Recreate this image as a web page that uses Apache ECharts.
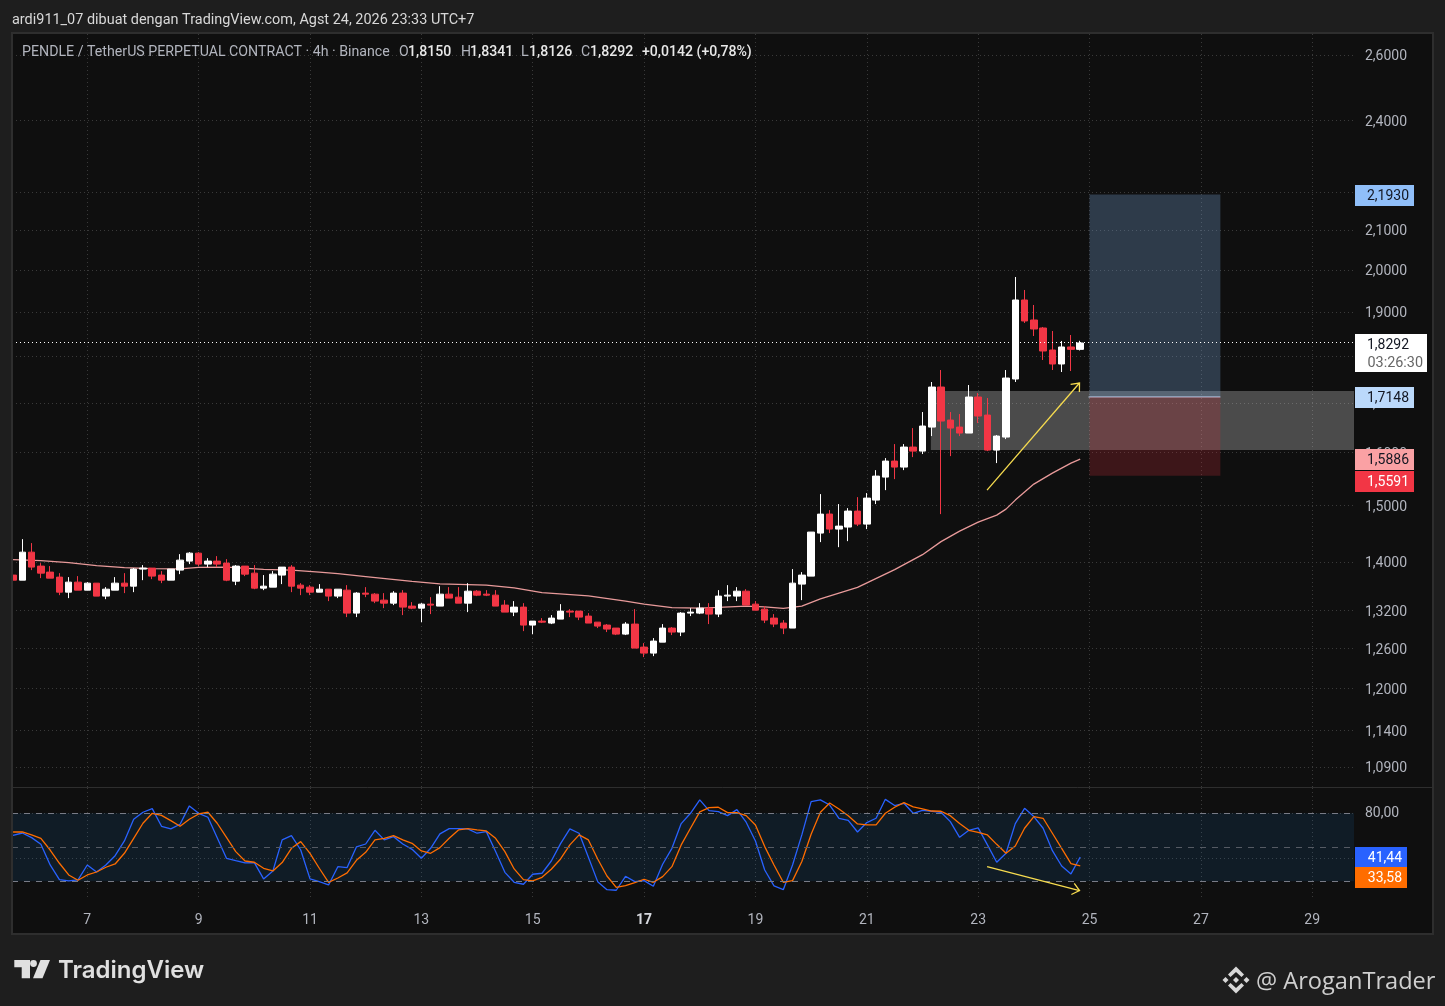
<!DOCTYPE html>
<html><head><meta charset="utf-8">
<style>html,body{margin:0;padding:0;background:#1e1e1e}#c{width:1445px;height:1006px}</style>
<script src="https://cdn.jsdelivr.net/npm/echarts@6/dist/echarts.min.js"></script>
</head><body><div id="c"></div>
<script>
// Aug 5 16:00, then one candle every 4 hours
const firstCandleDay = 5 + 2/3;
const candleStepDays = 1/6;
const opens = [1.3778,1.3693,1.4169,1.3930,1.3828,1.3744,1.3494,1.3660,1.3527,1.3643,1.3429,1.3527,1.3643,1.3593,1.3879,1.3896,1.3778,1.3693,1.3862,1.4015,1.4152,1.3964,1.4015,1.3981,1.3676,1.3930,1.3811,1.3560,1.3577,1.3778,1.3913,1.3610,1.3577,1.3494,1.3543,1.3429,1.3527,1.3153,1.3478,1.3461,1.3363,1.3314,1.3478,1.3266,1.3233,1.3298,1.3266,1.3461,1.3412,1.3314,1.3510,1.3461,1.3445,1.3282,1.3169,1.3250,1.2962,1.3025,1.2994,1.3057,1.3185,1.3185,1.3105,1.3009,1.2962,1.2915,1.2820,1.2978,1.2618,1.2526,1.2695,1.2915,1.2852,1.3153,1.3153,1.3233,1.3137,1.3429,1.3429,1.3510,1.3298,1.3217,1.3073,1.2994,1.2915,1.3627,1.3761,1.4503,1.4844,1.4574,1.4610,1.4898,1.4663,1.5099,1.5529,1.5836,1.5720,1.6109,1.6030,1.6507,1.7334,1.6649,1.6507,1.6387,1.7124,1.6751,1.6050,1.6307,1.7505,1.9278,1.8813,1.8630,1.8136,1.7829,1.8203,1.8150];
const closes = [1.3693,1.4169,1.3913,1.3811,1.3727,1.3494,1.3660,1.3527,1.3643,1.3429,1.3543,1.3643,1.3593,1.3879,1.3896,1.3761,1.3693,1.3879,1.4032,1.4152,1.3964,1.4015,1.3964,1.3693,1.3930,1.3794,1.3560,1.3593,1.3794,1.3913,1.3593,1.3560,1.3494,1.3543,1.3429,1.3543,1.3153,1.3478,1.3461,1.3347,1.3314,1.3478,1.3250,1.3233,1.3298,1.3282,1.3461,1.3396,1.3314,1.3510,1.3445,1.3445,1.3266,1.3169,1.3250,1.2962,1.3025,1.3009,1.3073,1.3185,1.3169,1.3089,1.2994,1.2946,1.2899,1.2820,1.2978,1.2603,1.2526,1.2711,1.2915,1.2852,1.3153,1.3169,1.3233,1.3137,1.3429,1.3445,1.3510,1.3282,1.3201,1.3041,1.2978,1.2915,1.3643,1.3778,1.4521,1.4843,1.4574,1.4627,1.4898,1.4663,1.5136,1.5548,1.5836,1.5720,1.6109,1.6030,1.6528,1.7334,1.6629,1.6487,1.6387,1.7124,1.6731,1.6050,1.6327,1.7526,1.9278,1.8790,1.8607,1.8114,1.7829,1.8203,1.8150,1.8292];
const highs = [1.3930,1.4396,1.4327,1.3981,1.3930,1.3811,1.3744,1.3761,1.3660,1.3643,1.3577,1.3744,1.3811,1.3896,1.3947,1.3896,1.3845,1.3879,1.4135,1.4169,1.4169,1.4066,1.4101,1.4049,1.3947,1.3930,1.3947,1.3778,1.3845,1.3913,1.3947,1.3643,1.3610,1.3627,1.3543,1.3543,1.3610,1.3494,1.3577,1.3478,1.3478,1.3510,1.3527,1.3331,1.3314,1.3412,1.3593,1.3577,1.3577,1.3643,1.3527,1.3527,1.3527,1.3363,1.3347,1.3314,1.3025,1.3073,1.3121,1.3298,1.3217,1.3185,1.3153,1.3009,1.2978,1.2915,1.3009,1.3217,1.2680,1.2758,1.2978,1.2930,1.3169,1.3233,1.3314,1.3314,1.3527,1.3610,1.3577,1.3543,1.3347,1.3266,1.3137,1.3041,1.3879,1.3828,1.4521,1.5210,1.4916,1.5026,1.4952,1.5154,1.5229,1.5662,1.5894,1.6168,1.6168,1.6487,1.6813,1.7441,1.7698,1.6813,1.6772,1.7377,1.7208,1.7103,1.6347,1.7698,1.9827,1.9515,1.9161,1.8653,1.8561,1.8337,1.8471,1.8341];
const lows = [1.3543,1.3693,1.3862,1.3727,1.3727,1.3445,1.3396,1.3527,1.3527,1.3429,1.3379,1.3527,1.3478,1.3494,1.3693,1.3710,1.3643,1.3693,1.3794,1.3964,1.3930,1.3913,1.3913,1.3676,1.3610,1.3761,1.3543,1.3527,1.3577,1.3627,1.3494,1.3445,1.3445,1.3494,1.3347,1.3396,1.3089,1.3089,1.3412,1.3314,1.3233,1.3282,1.3121,1.3217,1.3009,1.3137,1.3266,1.3396,1.3314,1.3169,1.3429,1.3429,1.3266,1.3169,1.3105,1.2867,1.2820,1.2994,1.2978,1.3057,1.3089,1.3041,1.2994,1.2915,1.2852,1.2805,1.2805,1.2603,1.2465,1.2480,1.2695,1.2805,1.2789,1.3105,1.3137,1.2978,1.3089,1.3347,1.3347,1.3282,1.3201,1.2994,1.2930,1.2820,1.2915,1.3363,1.3761,1.4344,1.4503,1.4256,1.4361,1.4628,1.4574,1.5026,1.5284,1.5491,1.5662,1.5913,1.5972,1.6327,1.4843,1.5932,1.6327,1.6387,1.6589,1.6030,1.5797,1.6267,1.7441,1.8744,1.8449,1.7916,1.7698,1.7655,1.7676,1.8126];
const emaDays = [5.667,6.167,6.667,7.167,7.667,8.167,8.667,9,9.5,10.167,10.667,11.167,11.5,12,12.833,13.333,14.167,14.667,15.167,16,16.667,17,17.5,18,18.333,18.833,19.167,19.5,19.833,20.167,20.833,21.5,22,22.333,22.667,23,23.333,23.5,23.667,24,24.333,24.667,24.833];
const emaValues = [1.4041,1.4023,1.3990,1.3938,1.3904,1.3887,1.3884,1.3908,1.3913,1.3875,1.3862,1.3828,1.3803,1.3752,1.3671,1.3632,1.3610,1.3565,1.3486,1.3434,1.3347,1.3298,1.3242,1.3233,1.3245,1.3266,1.3255,1.3228,1.3266,1.3384,1.3572,1.3870,1.4126,1.4353,1.4538,1.4699,1.4825,1.4934,1.5099,1.5397,1.5604,1.5797,1.5874];
const stochK = [60.6,62.6,58.5,52.6,34.4,21.5,20.3,21.2,34.4,28.2,34.4,42.6,55.6,74.7,80.9,84.1,68.5,66.2,70.3,86.5,80,76.5,58.5,40.3,38.2,36.2,36.5,22.1,29.1,56.5,60.3,47.6,22.1,19.7,16.8,32.9,32.1,50.3,52.9,65,56.5,59.4,52.9,48.2,40.3,49.1,61.8,66.5,66.5,66.2,62.4,63.8,46.2,27.9,19.1,17.4,26.2,27.1,37.9,53.2,66.2,62.4,41.2,19.7,12.6,12.1,24.4,19.7,20.6,15.6,35,49.1,70.9,80,91.8,82.3,81.5,77.9,83.2,72.1,55.6,30,15.9,12.6,34.4,60.9,90.3,91.8,87.3,75.6,73.8,63.5,71.8,75.6,92.3,86.8,88.8,80,82.6,81.8,80.9,72.6,58.8,65,67.1,52.1,36.8,44.7,70.9,84.4,77.1,66.8,47,33.5,26.5,41.44];
const stochD = [63.5,63.5,60.9,57.9,47.6,35.9,25.6,20.9,25.6,28.2,32.4,35.3,44.7,57.9,71.2,80,78.2,73.5,68.5,74.7,79.4,80.9,71.2,58.8,46.2,37.9,36.8,31.5,29.1,36.5,49.1,55,44.7,31.5,19.1,22.9,27.4,38.5,45.6,56.5,57.9,60.3,56.5,53.5,46.8,44.7,49.7,57.9,65.3,66.5,65.3,64.4,57.9,46.2,30.9,21.5,20.3,23.5,30.6,39.7,52.1,60.9,56.5,39.7,24.7,14.7,16.2,18.8,21.8,19.1,24.1,32.9,52.1,66.8,81.2,85,85.3,80.6,80.6,77.9,69.7,50.6,34.4,19.1,20.6,37.4,61.5,80.9,89.1,83.8,77.9,70.6,69.7,69.7,80,85.3,89.4,85.6,83.8,82,81.8,77.9,70.9,65,63.2,60.9,52.6,44.7,51.2,66.8,77.1,75.6,62.4,49.1,35.6,33.58];
const priceTicks = [2.6,2.4,2.2,2.1,2.0,1.9,1.8,1.7,1.6,1.5,1.4,1.32,1.26,1.2,1.14,1.09];
const stochTicks = [40,80];
const stochLabels = [40,80];
const stochLevels = [20,50,80];
const dayTicks = [7,9,11,13,15,17,19,21,23,25,27,29];
const lastPrice = 1.8292;
const countdown = '03:26:30';
const priceTagValues = [2.1930,1.7148,1.5886,1.5591];
const stochTagValues = [41.44,33.58];
const longBox = [25, 27.35, 1.7125, 2.193];
const shortBox = [25, 27.35, 1.5555, 1.7125];
const greyZone = [22.15, 29.75, 1.6052, 1.7252];
const priceArrow = [23.16, 1.5284, 24.82, 1.7420];
const stochArrow = [23.16, 32.9, 24.82, 11.8];

const fmt = (v,d) => Number(v).toFixed(d).replace('.',',');
const X_MIN = 5.648, X_MAX = 29.75;
const FONT = 'Roboto, sans-serif';
const candles = opens.map((o,i)=>[firstCandleDay + i*candleStepDays, o, closes[i], lows[i], highs[i]]);
const days = i => firstCandleDay + i*candleStepDays;

function boxItem(fill){
  return (p,api)=>{
    const a = api.coord([api.value(0),api.value(2)]), b = api.coord([api.value(1),api.value(3)]);
    return {type:'rect',shape:{x:a[0],y:b[1],width:b[0]-a[0],height:a[1]-b[1]},style:{fill}};
  };
}
function arrowItem(p,api){
  const a = api.coord([api.value(0),api.value(1)]), b = api.coord([api.value(2),api.value(3)]);
  const ang = Math.atan2(a[1]-b[1],a[0]-b[0]), L = 9, S = 0.7;
  const h1 = [b[0]+L*Math.cos(ang+S), b[1]+L*Math.sin(ang+S)], h2 = [b[0]+L*Math.cos(ang-S), b[1]+L*Math.sin(ang-S)];
  const st = {stroke:'#f7dc4f',lineWidth:1.3,fill:null};
  return {type:'group',children:[
    {type:'polyline',shape:{points:[a,b]},style:st},
    {type:'polyline',shape:{points:[h1,b,h2]},style:st}
  ]};
}
function tagItem(styles){
  return (p,api)=>{
    const s = styles[p.dataIndex];
    const c = api.coord([X_MAX,api.value(1)]);
    const cy = Math.round(c[1]) + s.dy;
    return {type:'group',children:[
      {type:'rect',shape:{x:1355,y:cy-10,width:s.w,height:21},style:{fill:s.bg}},
      {type:'text',style:{x:1355+s.w-5,y:cy+1,text:s.text,fill:s.fg,font:'14px '+FONT,align:'right',verticalAlign:'middle'}}
    ]};
  };
}
const priceTagStyles = [
  {bg:'#90bff9',fg:'#131722',dy:1,w:59},
  {bg:'#bbd9fb',fg:'#131722',dy:1,w:59},
  {bg:'#faa1a4',fg:'#131722',dy:1,w:59},
  {bg:'#f23645',fg:'#ffffff',dy:7,w:59}
].map((s,i)=>({...s,text:fmt(priceTagValues[i],4)}));
const stochTagStyles = [
  {bg:'#2962ff',fg:'#ffffff',dy:0,w:52},
  {bg:'#ff6d00',fg:'#ffffff',dy:11,w:52}
].map((s,i)=>({...s,text:fmt(stochTagValues[i],2)}));

function splitDotted(){return {show:true,lineStyle:{color:'#3a3a3a',type:[1,3],width:1}};}

const legendBits = [
  [22,'PENDLE / TetherUS PERPETUAL CONTRACT · 4h · Binance','#b2b5be'],
  [399,'O','#b2b5be'],[408,'1,8150','#e8e8e8'],
  [461,'H','#b2b5be'],[470,'1,8341','#e8e8e8'],
  [521,'L','#b2b5be'],[529,'1,8126','#e8e8e8'],
  [581,'C','#b2b5be'],[590,'1,8292','#e8e8e8'],
  [642,'+0,0142 (+0,78%)','#e8e8e8']
];
const gfx = [
  {type:'rect',z:-10,shape:{x:12,y:33,width:1421,height:901},style:{fill:'#0f0f0f',stroke:'#2e2e2e',lineWidth:2}},
  {type:'rect',z:30,shape:{x:0,y:34,width:11,height:900},style:{fill:'#1e1e1e'}},
  {type:'line',z:30,shape:{x1:12,y1:33,x2:12,y2:934},style:{stroke:'#2e2e2e',lineWidth:2}},
  {type:'line',z:1,shape:{x1:12,y1:787.5,x2:1433,y2:787.5},style:{stroke:'#2e2e2e',lineWidth:1}},
  {type:'text',z:100,style:{x:12,y:20.5,text:'ardi911_07 dibuat dengan TradingView.com, Agst 24, 2026 23:33 UTC+7',fill:'#d8d8d8',font:'14.45px '+FONT,verticalAlign:'middle'}},
  ...legendBits.map((b,i)=>({type:'text',z:100,style:{x:b[0],y:52,text:b[1],fill:b[2],font:(b[2]==='#e8e8e8'?'500 ':'')+(i===0?'14.2px ':'14.1px ')+FONT,verticalAlign:'middle'}})),
  // TradingView mark
  {type:'polygon',z:100,shape:{points:[[14.3,960],[30,960],[30,978.3],[21.7,978.3],[21.7,967.3],[14.3,967.3]]},style:{fill:'#e0e0e0'}},
  {type:'circle',z:100,shape:{cx:33.5,cy:963.5,r:3.4},style:{fill:'#e0e0e0'}},
  {type:'polygon',z:100,shape:{points:[[40.5,960],[50,960],[42.5,978.3],[33,978.3]]},style:{fill:'#e0e0e0'}},
  {type:'text',z:100,style:{x:58,y:971,text:'TradingView',fill:'#e0e0e0',font:'600 24px Inter, sans-serif',verticalAlign:'middle'}},
  // Binance mark
  {type:'group',z:100,x:1236,y:980,children:[
    {type:'polygon',shape:{points:[[0,-13.5],[8,-5.5],[5.5,-3],[0,-8],[-5.5,-3],[-8,-5.5]]},style:{fill:'#d8d8d8'}},
    {type:'polygon',shape:{points:[[0,13.5],[8,5.5],[5.5,3],[0,8],[-5.5,3],[-8,5.5]]},style:{fill:'#d8d8d8'}},
    {type:'polygon',shape:{points:[[0,-3],[3,0],[0,3],[-3,0]]},style:{fill:'#d8d8d8'}},
    {type:'polygon',shape:{points:[[-10.5,-3],[-7.5,0],[-10.5,3],[-13.5,0]]},style:{fill:'#d8d8d8'}},
    {type:'polygon',shape:{points:[[10.5,-3],[13.5,0],[10.5,3],[7.5,0]]},style:{fill:'#d8d8d8'}}
  ]},
  {type:'text',z:100,style:{x:1256,y:982,text:'@ AroganTrader',fill:'#cfcfcf',font:'23.6px "Open Sans", sans-serif',verticalAlign:'middle'}},
];

const chart = echarts.init(document.getElementById('c'),null,{renderer:'canvas'});
chart.setOption({
  animation:false,
  backgroundColor:'#1e1e1e',
  graphic:gfx,
  grid:[
    {left:12,right:91,top:34,height:753},
    {left:12,right:91,top:788,height:112}
  ],
  xAxis:[
    {type:'value',gridIndex:0,min:X_MIN,max:X_MAX,axisLine:{show:false},axisTick:{show:false,customValues:dayTicks},axisLabel:{show:false},splitLine:splitDotted()},
    {type:'value',gridIndex:1,min:X_MIN,max:X_MAX,axisLine:{show:false},axisTick:{show:false,customValues:dayTicks},
      axisLabel:{show:true,customValues:dayTicks,margin:13,color:'#b2b5be',fontFamily:FONT,fontSize:14,hideOverlap:false,showMinLabel:true,showMaxLabel:true,
        formatter:v=>v===17?'{b|17}':String(v),rich:{b:{fontWeight:'bold',color:'#d6d8de',fontSize:14,fontFamily:FONT}}},
      splitLine:splitDotted()}
  ],
  yAxis:[
    {type:'log',logBase:10,gridIndex:0,position:'right',min:1.0637,max:2.6675,axisLine:{show:false},axisTick:{show:false,customValues:priceTicks},
      axisLabel:{show:true,customValues:priceTicks,margin:11,align:'left',verticalAlign:'top',lineHeight:4,color:'#b2b5be',fontFamily:FONT,fontSize:14,formatter:v=>fmt(v,4)},
      splitLine:splitDotted()},
    {type:'value',gridIndex:1,position:'right',min:3.5,max:102.3,axisLine:{show:false},axisTick:{show:false,customValues:stochTicks},
      axisLabel:{show:true,customValues:stochLabels,margin:11,align:'left',color:'#b2b5be',fontFamily:FONT,fontSize:14,formatter:v=>fmt(v,2)},
      splitLine:splitDotted()}
  ],
  series:[
    {type:'custom',name:'zone',xAxisIndex:0,yAxisIndex:0,z:1,silent:true,renderItem:boxItem('rgba(255,255,255,0.25)'),data:[greyZone],encode:{x:[0,1],y:[2,3]}},
    {type:'line',name:'EMA',xAxisIndex:0,yAxisIndex:0,z:2,symbol:'none',lineStyle:{color:'#e89a9a',width:1.3},data:emaDays.map((d,i)=>[d,emaValues[i]])},
    {type:'candlestick',name:'PENDLE',xAxisIndex:0,yAxisIndex:0,z:3,barWidth:7,encode:{x:0,y:[1,2,3,4]},
      itemStyle:{color:'#ffffff',color0:'#f23645',borderColor:'#ffffff',borderColor0:'#f23645',borderColorDoji:'#ffffff',borderWidth:1},
      data:candles,
      markLine:{silent:true,symbol:'none',label:{show:false},lineStyle:{color:'#ffffff',type:[1,3],width:1},data:[{yAxis:lastPrice}],z:5}},
    {type:'custom',name:'long',xAxisIndex:0,yAxisIndex:0,z:4,silent:true,renderItem:(p,api)=>{
        const g = boxItem('rgba(118,162,212,0.3)')(p,api);
        const a = api.coord([api.value(0),api.value(2)]), b = api.coord([api.value(1),api.value(2)]);
        return {type:'group',children:[g,{type:'line',shape:{x1:a[0]-1,y1:a[1],x2:b[0],y2:a[1]},style:{stroke:'#c3d9f7',lineWidth:1.2}}]};
      },data:[longBox],encode:{x:[0,1],y:[2,3]}},
    {type:'custom',name:'short',xAxisIndex:0,yAxisIndex:0,z:4,silent:true,renderItem:boxItem('rgba(199,43,55,0.25)'),data:[shortBox],encode:{x:[0,1],y:[2,3]}},
    {type:'custom',name:'arrow',xAxisIndex:0,yAxisIndex:0,z:6,silent:true,renderItem:arrowItem,data:[priceArrow],encode:{x:[0,2],y:[1,3]}},
    {type:'custom',name:'priceTags',xAxisIndex:0,yAxisIndex:0,z:20,silent:true,clip:false,renderItem:tagItem(priceTagStyles),data:priceTagValues.map(v=>[X_MAX,v]),encode:{x:0,y:1}},
    {type:'custom',name:'lastTag',xAxisIndex:0,yAxisIndex:0,z:20,silent:true,clip:false,renderItem:(p,api)=>{
        const c = api.coord([X_MAX,api.value(1)]), top = Math.round(c[1])-9;
        return {type:'group',children:[
          {type:'rect',shape:{x:1355,y:top,width:72,height:38},style:{fill:'#ffffff'}},
          {type:'text',style:{x:1409,y:top+11.5,text:fmt(lastPrice,4),fill:'#131722',font:'14px '+FONT,align:'right',verticalAlign:'middle'}},
          {type:'text',style:{x:1423,y:top+29,text:countdown,fill:'#666666',font:'14.4px '+FONT,align:'right',verticalAlign:'middle'}}
        ]};
      },data:[[X_MAX,lastPrice]],encode:{x:0,y:1}},
    {type:'line',name:'K',xAxisIndex:1,yAxisIndex:1,z:3,symbol:'none',lineStyle:{color:'#2962ff',width:1.3},data:stochK.map((v,i)=>[days(i),v]),
      markArea:{silent:true,itemStyle:{color:'rgba(33,150,243,0.1)'},data:[[{yAxis:20},{yAxis:80}]],z:1},
      markLine:{silent:true,symbol:'none',label:{show:false},data:stochLevels.map(v=>({yAxis:v,lineStyle:{color:v===50?'#555a63':'#787b86',type:[6,6],width:1}}))}},
    {type:'line',name:'D',xAxisIndex:1,yAxisIndex:1,z:4,symbol:'none',lineStyle:{color:'#ff6d00',width:1.3},data:stochD.map((v,i)=>[days(i),v])},
    {type:'custom',name:'arrow2',xAxisIndex:1,yAxisIndex:1,z:6,silent:true,renderItem:arrowItem,data:[stochArrow],encode:{x:[0,2],y:[1,3]}},
    {type:'custom',name:'stochTags',xAxisIndex:1,yAxisIndex:1,z:20,silent:true,clip:false,renderItem:tagItem(stochTagStyles),data:stochTagValues.map(v=>[X_MAX,v]),encode:{x:0,y:1}}
  ]
});
</script></body></html>
